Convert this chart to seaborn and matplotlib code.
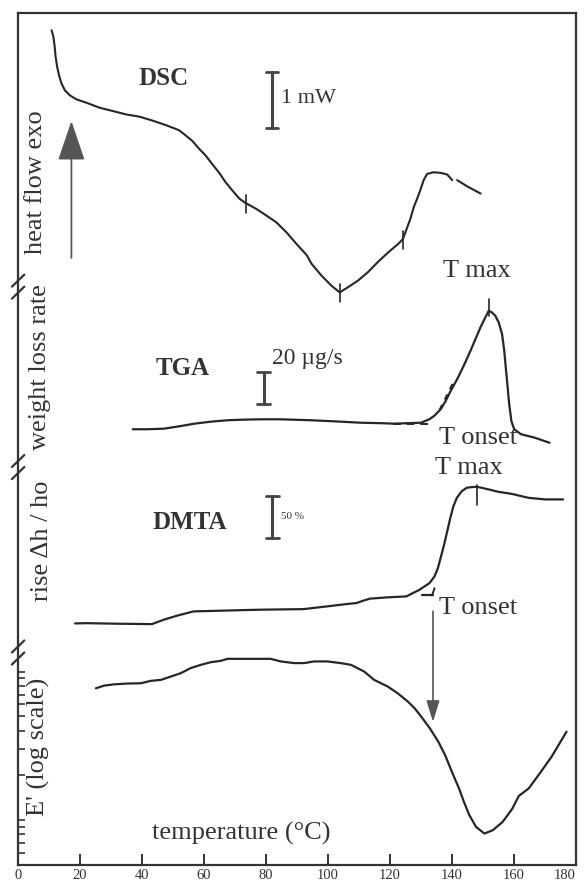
import numpy as np
import pandas as pd
import seaborn as sns
import matplotlib.pyplot as plt

# --- data --------------------------------------------------------------
# DSC heat flow (mW, arbitrary zero)
dsc_temp = [10.8, 11.4, 11.8, 12.1, 12.6, 13.2, 14.0, 15.1, 16.7, 18.8, 22.0,
            26.3, 30.6, 34.9, 39.2, 43.4, 47.7, 51.9, 54.0, 56.2, 58.4, 60.5,
            62.6, 64.9, 67.0, 69.1, 71.4, 73.5, 76.8, 80.1, 83.3, 86.6, 89.9,
            93.2, 94.7, 97.9, 101.1, 103.8, 106.4, 109.7, 112.9, 116.1, 119.4,
            122.6, 124.2, 125.2, 126.6, 127.7, 128.8, 129.8, 130.9, 132.0,
            134.1, 136.3, 138.5, 140.1]
dsc_heat = [4.55, 4.43, 4.26, 4.08, 3.90, 3.75, 3.60, 3.48, 3.39, 3.32, 3.26,
            3.17, 3.11, 3.05, 3.01, 2.94, 2.86, 2.77, 2.68, 2.58, 2.44, 2.32,
            2.17, 2.01, 1.84, 1.70, 1.55, 1.47, 1.37, 1.25, 1.13, 0.95, 0.74,
            0.54, 0.39, 0.18, 0.00, -0.12, -0.03, 0.09, 0.24, 0.42, 0.59,
            0.74, 0.83, 0.98, 1.19, 1.40, 1.55, 1.70, 1.88, 1.99,
            2.02, 2.01, 1.98, 1.88]
dsc_tail_temp = [141.7, 144.9, 149.3]
dsc_tail_heat = [1.88, 1.77, 1.64]
dsc_marks = [73.5, 103.8, 124.2]

# TGA weight loss rate (ug/s)
tga_temp = [37.0, 41.8, 47.2, 52.6, 56.9, 62.3, 67.6, 73.0, 78.4, 84.8, 94.5,
            102.0, 110.6, 117.1, 121.4, 125.7, 130.0, 132.7, 134.3, 136.4,
            138.0, 139.6, 141.7, 143.8, 146.0, 147.6, 149.2, 150.8, 151.9,
            152.9, 154.0, 155.1, 156.2, 156.9, 157.4, 157.9, 158.5, 159.2,
            160.1, 162.3, 166.7, 171.5]
tga_rate = [-3.4, -3.4, -3.0, -1.3, 0.2, 1.5, 2.4, 2.8, 3.0, 3.0, 2.4,
            1.7, 0.8, 0.5, 0.2, 0.5, 0.8, 3.0, 5.2, 9.5,
            14.8, 21.3, 28.8, 37.4, 47.1, 54.6, 62.1, 68.6, 72.9,
            71.8, 69.7, 65.4, 57.8, 47.1, 36.3, 25.6, 12.7, 1.9,
            -3.4, -6.6, -8.8, -12.1]

# DMTA height rise (%)
dmta_temp = [18.4, 22.2, 33.0, 43.2, 47.0, 51.3, 56.6, 65.2, 78.1, 92.1, 99.6,
             106.0, 109.2, 111.4, 113.5, 118.9, 125.3, 129.6, 132.8, 134.4,
             135.5, 136.5, 137.5, 138.5, 139.5, 140.5, 141.6, 143.2, 144.8,
             146.4, 148.0, 149.6, 151.8, 155.0, 159.3, 164.7, 170.0, 175.9]
dmta_rise = [1.2, 1.5, 0.8, 0.4, 5.6, 10.4, 15.5, 16.3, 17.5, 18.2, 21.4,
             24.2, 25.4, 28.2, 30.6, 32.1, 33.3, 41.3, 49.2, 57.1,
             67.0, 81.0, 94.9, 110.7, 126.5, 140.5, 150.4, 158.3, 162.3,
             163.1, 163.5, 162.3, 160.4, 157.5, 155.1, 150.4, 148.5, 148.5]

# storage modulus E' (MPa, log scale)
mod_temp = [25.1, 27.8, 31.0, 35.3, 39.6, 42.8, 46.1, 49.3, 52.5, 55.7, 59.0,
            62.2, 65.4, 67.6, 74.0, 81.5, 84.8, 89.1, 92.3, 95.5, 99.8, 104.1,
            107.4, 111.7, 114.9, 119.3, 122.5, 125.8, 128.0, 130.1, 132.9,
            135.6, 137.8, 140.0, 142.3, 143.9, 145.6, 147.8, 150.5, 153.2,
            156.4, 159.5, 161.6, 164.8, 168.0, 172.2, 177.0]
mod_e = [771, 804, 820, 830, 834, 865, 879, 925, 975, 1055, 1110,
         1156, 1181, 1218, 1218, 1218, 1170, 1140, 1140, 1170, 1170, 1140,
         1110, 1000, 879, 792, 714, 627, 565, 497, 414,
         337, 274, 211, 163, 132, 108, 89.7, 80.9, 85.2,
         97, 119, 145, 163, 201, 267, 393]

temp_ticks = [0, 20, 40, 60, 80, 100, 120, 140, 160, 180]

# --- layout: vertical offset / scale of each stacked trace -------------
DSC_BASE, DSC_SCALE = 578, 56.0      # per mW
TGA_BASE, TGA_SCALE = 440, 1.55      # per ug/s
DMTA_BASE, DMTA_SCALE = 240, 0.84    # per %
MOD_BASE, MOD_SCALE = 45, 148.0      # per decade (100 MPa at base)
breaks = [578, 398, 213]

ink = "#262626"
txt = "#333333"

sns.set_style("white")
plt.rcParams["font.family"] = ["Liberation Serif", "DejaVu Serif"]

fig = plt.figure(figsize=(5.84, 8.85), dpi=100)
ax = fig.add_axes([0.031, 0.0226, 0.955, 0.9627])


def line(x, y, lw=1.6):
    sns.lineplot(x=np.asarray(x), y=np.asarray(y), ax=ax, color=ink,
                 lw=lw, estimator=None, sort=False)


line(dsc_temp, DSC_BASE + DSC_SCALE * np.array(dsc_heat), lw=1.5)
line(dsc_tail_temp, DSC_BASE + DSC_SCALE * np.array(dsc_tail_heat), lw=1.5)
line(tga_temp, TGA_BASE + TGA_SCALE * np.array(tga_rate))
line(dmta_temp, DMTA_BASE + DMTA_SCALE * np.array(dmta_rise))
line(mod_temp, MOD_BASE + MOD_SCALE * (np.log10(mod_e) - 2))

# small tick marks on the DSC trace
for t in dsc_marks:
    yv = DSC_BASE + DSC_SCALE * np.interp(t, dsc_temp, dsc_heat)
    ax.plot([t, t], [yv - 10, yv + 8], color=ink, lw=1.2)

# T max ticks
tga_top = TGA_BASE + TGA_SCALE * max(tga_rate)
ax.plot([151.9, 151.9], [tga_top - 5, tga_top + 12], color=ink, lw=1.2)
dmta_top = DMTA_BASE + DMTA_SCALE * max(dmta_rise)
ax.plot([148.0, 148.0], [dmta_top - 18, dmta_top + 2], color=ink, lw=1.2)

# onset construction lines
ax.plot([121, 133], [TGA_BASE, TGA_BASE], color=ink, lw=1.4, ls=(0, (4, 3)))
ax.plot([136.0, 140.5], [TGA_BASE + TGA_SCALE * 9, TGA_BASE + TGA_SCALE * 27],
        color=ink, lw=1.4, ls=(0, (3, 3)))
ax.plot([130.5, 133.8], [DMTA_BASE + DMTA_SCALE * 34.5] * 2, color=ink, lw=1.6)
ax.plot([133.6, 134.4], [DMTA_BASE + DMTA_SCALE * 34.5, DMTA_BASE + DMTA_SCALE * 43],
        color=ink, lw=1.4)


# scale bars
def scale_bar(t, y0, y1):
    ax.plot([t, t], [y0, y1], color="#444444", lw=2.2)
    for yy in (y0, y1):
        ax.plot([t - 2.0, t + 2.0], [yy, yy], color="#444444", lw=2.0)


scale_bar(82, 735, 791)
scale_bar(79.2, 460, 492)
scale_bar(82.1, 326, 368)

fs = 19
ax.text(47, 785, "DSC", fontsize=18, fontweight="bold", ha="center", va="center", color=txt)
ax.text(53, 495, "TGA", fontsize=18, fontweight="bold", ha="center", va="center", color=txt)
ax.text(55.5, 342, "DMTA", fontsize=18, fontweight="bold", ha="center", va="center", color=txt)
ax.text(85, 765, "1 mW", fontsize=16, ha="left", va="center", color=txt)
ax.text(82, 505, "20 \u00b5g/s", fontsize=17, ha="left", va="center", color=txt)
ax.text(85, 348, "50 %", fontsize=8, ha="left", va="center", color=txt)
ax.text(148, 593, "T max", fontsize=fs, ha="center", va="center", color=txt)
ax.text(136, 426, "T onset", fontsize=fs, ha="left", va="center", color=txt)
ax.text(145.5, 396, "T max", fontsize=fs, ha="center", va="center", color=txt)
ax.text(135.8, 256, "T onset", fontsize=fs, ha="left", va="center", color=txt)
ax.text(72, 31, "temperature (\u00b0C)", fontsize=fs, ha="center", va="center", color=txt)

ax.text(5.8, 681, "heat flow exo", fontsize=fs, rotation=90, ha="center", va="center", color=txt)
ax.text(7.0, 497, "weight loss rate", fontsize=fs, rotation=90, ha="center", va="center", color=txt)
ax.text(7.8, 323, "rise \u0394h / ho", fontsize=fs, rotation=90, ha="center", va="center", color=txt)
ax.text(6.6, 118, "E' (log scale)", fontsize=fs, rotation=90, ha="center", va="center", color=txt)

# exotherm arrow and onset arrow
ax.annotate("", xy=(17.2, 745), xytext=(17.2, 603),
            arrowprops=dict(arrowstyle="-|>,head_length=2.5,head_width=0.85",
                            mutation_scale=10, color="#555555", lw=1.3))
ax.annotate("", xy=(133.9, 140), xytext=(133.9, 256),
            arrowprops=dict(arrowstyle="-|>,head_length=1.3,head_width=0.4",
                            mutation_scale=10, color="#555555", lw=1.2))

# log ticks of the modulus panel on the left spine
log_ticks = [MOD_BASE + MOD_SCALE * (np.log10(k * 10.0 ** n) - 2)
             for n in (1, 2) for k in range(1, 10)]
log_ticks = [v for v in log_ticks if 5 < v < 200] + [MOD_BASE + MOD_SCALE]
ax.set_yticks(log_ticks)
ax.set_yticklabels([])
ax.tick_params(axis="y", direction="in", length=5, width=1.2, left=True,
               right=False, colors="#333333")

ax.set_xlim(0, 180)
ax.set_ylim(0, 850)
ax.set_xticks(temp_ticks)
ax.set_xticklabels([str(t) for t in temp_ticks], fontsize=10.5)
ax.get_xticklabels()[-1].set_horizontalalignment("right")
ax.tick_params(axis="x", direction="in", length=8, width=1.4, bottom=True,
               pad=3, colors="#333333")
ax.set_xlabel("")
ax.set_ylabel("")
for s in ax.spines.values():
    s.set_color("#333333")
    s.set_linewidth(1.6)

# axis break marks
for b in breaks:
    for d in (-7, 5):
        ax.plot([-2.0, 2.0], [b + d - 6, b + d + 6], color="#333333", lw=1.6,
                clip_on=False)

fig.savefig("out.png", dpi=100)
